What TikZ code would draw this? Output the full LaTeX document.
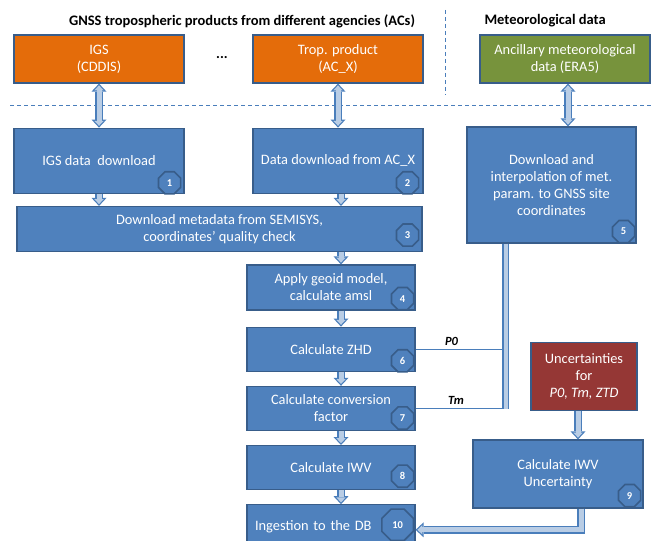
\documentclass[tikz,border=0pt]{standalone}
\usepackage{fontspec}
\setmainfont{Carlito}
\usetikzlibrary{shapes.geometric, arrows.meta, positioning}

\definecolor{boxblue}{HTML}{4F81BD}
\definecolor{boxedge}{HTML}{385D8A}
\definecolor{agencyorange}{HTML}{E46C0A}
\definecolor{metgreen}{HTML}{77933C}
\definecolor{uncred}{HTML}{953735}
\definecolor{arrowfill}{HTML}{B9CDE5}
\definecolor{arrowedge}{HTML}{4A7EBB}

\begin{document}
\begin{tikzpicture}[
    x=1pt, y=-1pt,
    node distance=14pt,
    box/.style={rectangle, draw=boxedge, line width=1.2pt, fill=boxblue, text=white, align=center, inner sep=3pt, font=\fontsize{14.4}{17}\selectfont},
    source/.style={box, minimum width=170pt, minimum height=48pt},
    stage/.style={box, minimum width=168pt, minimum height=44pt},
    badge/.style={regular polygon, regular polygon sides=8, draw=boxedge, line width=1.6pt, fill=boxblue, text=white, minimum size=24pt, inner sep=0pt, font=\fontsize{10.5}{12}\selectfont\bfseries},
    heading/.style={font=\fontsize{14.5}{17}\selectfont\bfseries},
    separator/.style={draw=arrowedge, line width=0.9pt, dash pattern=on 4pt off 3pt},
    blockarrow/.style={draw=arrowfill, line width=5pt, shorten >=1.8pt, -{Triangle[length=5pt, width=9.4pt, line width=0pt]},
        preaction={draw=arrowedge, line width=7.5pt, shorten >=0pt, -{Triangle[length=8pt, width=15pt, line width=0pt]}}},
    blockboth/.style={draw=arrowfill, line width=5pt, shorten >=1.8pt, shorten <=1.8pt, {Triangle[length=5pt, width=9.4pt, line width=0pt]}-{Triangle[length=5pt, width=9.4pt, line width=0pt]},
        preaction={draw=arrowedge, line width=7.5pt, shorten >=0pt, shorten <=0pt, {Triangle[length=8pt, width=15pt, line width=0pt]}-{Triangle[length=8pt, width=15pt, line width=0pt]}}},
    pipe/.style={draw=arrowedge, line width=1.2pt, double=arrowfill, double distance=4pt},
    feed/.style={draw=arrowedge, line width=1.2pt},
    param/.style={font=\fontsize{12.5}{14}\selectfont\bfseries\itshape}
]
    \useasboundingbox (0,0) rectangle (652,540);
    \clip (0,0) rectangle (652,540);

    % Headings and separators
    \node[heading] (agtitle) at (242,21) {GNSS tropospheric products from different agencies (ACs)};
    \node[heading, anchor=west] (mettitle) at (481,21) {Meteorological data};
    \draw[separator] (445,10) -- (445,95);
    \draw[separator] (10,105) -- (652,105);

    % Sources
    \node[source, fill=agencyorange] (igs) at (99,59) {IGS\\(CDDIS)};
    \node[source, fill=agencyorange] (trop) at (338,59) {Trop. product\\(AC\_X)};
    \node[font=\fontsize{14.4}{17}\selectfont\bfseries] (dots) at (222,58) {...};
    \node[source, fill=metgreen] (ancil) at (565,59) {Ancillary meteorological\\data (ERA5)};

    % Download steps
    \node[box, minimum width=170pt, minimum height=65pt, below=44pt of igs] (dl1) {IGS data\ \ download};
    \node[box, minimum width=170pt, minimum height=65pt, below=44pt of trop] (dl2) {Data download from AC\_X};
    \node[box, minimum width=405pt, minimum height=45pt] (meta) at (219.5,229) {Download metadata from SEMISYS,\\coordinates’ quality check};
    \node[box, minimum width=169pt, minimum height=116pt] (met) at (551.5,185) {Download and\\interpolation of met.\\param. to GNSS site\\coordinates};

    % Processing column
    \node[stage, minimum height=45pt] (geoid) at (331,287.5) {Apply geoid model,\\calculate amsl};
    \node[stage, below=16pt of geoid] (zhd) {Calculate ZHD};
    \node[stage, below=of zhd] (conv) {Calculate conversion\\factor};
    \node[stage, below=of conv] (iwv) {Calculate IWV};
    \node[stage, below=of iwv, text width=152pt, inner xsep=8pt, align=left] (db) {Ingestion to the DB};

    % Uncertainty branch
    \node[box, fill=uncred, minimum width=106pt, minimum height=68pt] (unc) at (584,376.5) {Uncertainties\\for\\\textit{P0, Tm, ZTD}};
    \node[box, minimum width=170pt, minimum height=68pt] (uiwv) at (558,474) {Calculate IWV\\Uncertainty};

    % Arrows
    \draw[blockboth] (igs) -- (dl1);
    \draw[blockboth] (trop.south) -- (trop.south |- dl2.north);
    \draw[blockboth] ([xshift=3pt]ancil.south) -- ([xshift=3pt]ancil.south |- met.north);
    \draw[blockarrow] (dl1) -- (dl1.south |- meta.north);
    \draw[blockarrow] ([xshift=3pt]dl2.south) -- ([xshift=3pt]dl2.south |- meta.north);
    \draw[blockarrow] ([xshift=3pt]dl2.south |- meta.south) -- ([xshift=3pt]dl2.south |- geoid.north);
    \draw[blockarrow] ([xshift=3pt]dl2.south |- geoid.south) -- ([xshift=3pt]dl2.south |- zhd.north);
    \draw[blockarrow] ([xshift=3pt]dl2.south |- zhd.south) -- ([xshift=3pt]dl2.south |- conv.north);
    \draw[blockarrow] ([xshift=3pt]dl2.south |- conv.south) -- ([xshift=3pt]dl2.south |- iwv.north);
    \draw[blockarrow] ([xshift=3pt]dl2.south |- iwv.south) -- ([xshift=3pt]dl2.south |- db.north);

    % Meteorological parameters
    \coordinate (pipetop) at ([xshift=-46pt]met.south);
    \draw[feed] (zhd.east) -- node[param, above, pos=0.4] {P0} (zhd.east -| pipetop);
    \draw[feed] (conv.east) -- node[param, above, pos=0.45] {Tm} (conv.east -| pipetop);
    \draw[pipe] (pipetop) -- ([yshift=-1pt]pipetop |- conv.east);

    \draw[blockarrow] ([xshift=-6pt]unc.south) -- ([xshift=-6pt]unc.south |- uiwv.north);
    \coordinate (out9) at ([xshift=23pt]uiwv.south);
    \draw[blockarrow] (out9) |- ([yshift=-3pt]db.east);

    % Step numbers
    \node[badge] (n1) at ([shift={(-15pt,11pt)}]dl1.south east) {1};
    \node[badge] (n2) at ([shift={(-16pt,11pt)}]dl2.south east) {2};
    \node[badge] (n3) at ([shift={(-15pt,17pt)}]meta.south east) {3};
    \node[badge] (n4) at ([shift={(-13pt,12pt)}]geoid.south east) {4};
    \node[badge] (n5) at ([shift={(-13pt,12pt)}]met.south east) {5};
    \node[badge] (n6) at ([shift={(-13pt,11pt)}]zhd.south east) {6};
    \node[badge] (n7) at ([shift={(-13pt,13pt)}]conv.south east) {7};
    \node[badge] (n8) at ([shift={(-13pt,14pt)}]iwv.south east) {8};
    \node[badge] (n9) at ([shift={(-14pt,13pt)}]uiwv.south east) {9};
    \node[badge, minimum size=34pt] (n10) at ([shift={(-18pt,2pt)}]db.east) {10};
\end{tikzpicture}
\end{document}
